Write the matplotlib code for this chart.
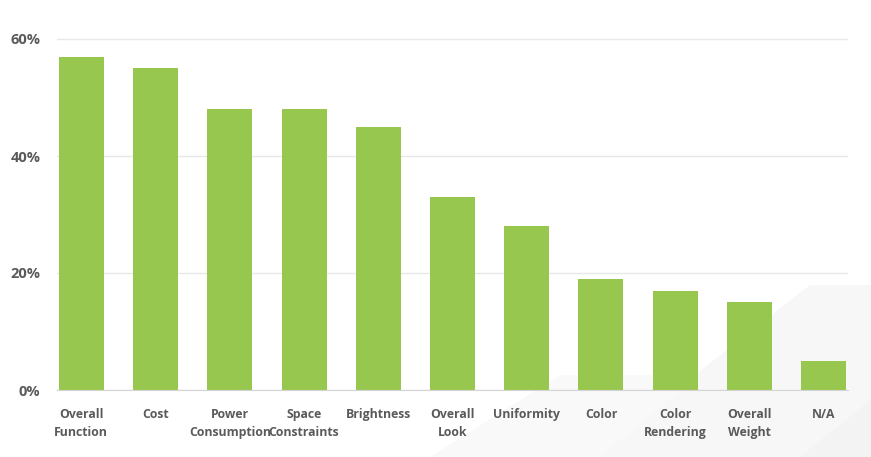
import matplotlib
matplotlib.use('Agg')
import matplotlib.pyplot as plt
from matplotlib.patches import Polygon
from matplotlib.ticker import FuncFormatter

categories = ['Overall\nFunction', 'Cost', 'Power\nConsumption', 'Space\nConstraints',
              'Brightness', 'Overall\nLook', 'Uniformity', 'Color',
              'Color\nRendering', 'Overall\nWeight', 'N/A']
values = [57, 55, 48, 48, 45, 33, 28, 19, 17, 15, 5]
yticks = [0, 20, 40, 60]

W, H = 871, 457
fig = plt.figure(figsize=(W / 100, H / 100), dpi=100)

# faint background watermark shapes (pixel coords -> figure coords)
def px(pts):
    return [(x / W, 1 - y / H) for x, y in pts]

for pts, c in [([(590, 457), (810, 285), (871, 285), (871, 457)], '#f7f7f7'),
               ([(430, 457), (560, 375), (700, 375), (600, 457)], '#f9f9f9'),
               ([(800, 457), (871, 400), (871, 457)], '#f3f3f3')]:
    fig.patches.append(Polygon(px(pts), closed=True, transform=fig.transFigure,
                               facecolor=c, edgecolor='none', zorder=-5))

ax = fig.add_axes([57 / W, 1 - 390 / H, 791 / W, (390 - 33.15) / H])
ax.set_facecolor('none')

x = range(len(categories))
ax.bar(x, values, width=0.606, color='#98c74f', zorder=3)

ax.set_xlim(-0.327, len(categories) - 1 + 0.327)
ax.set_ylim(0, 61)
ax.set_yticks(yticks)
ax.yaxis.set_major_formatter(FuncFormatter(lambda v, p: '%d%%' % v))
ax.grid(axis='y', color='#e8e8e8', linewidth=1, zorder=0)
for s in ['top', 'right', 'left']:
    ax.spines[s].set_visible(False)
ax.spines['bottom'].set_color('#d4d4d4')
ax.spines['bottom'].set_zorder(4)

ax.set_xticks(list(x))
ax.set_xticklabels(categories, linespacing=1.5)
ax.tick_params(axis='both', length=0, colors='#5a5a5a')
ax.tick_params(axis='x', pad=13)
ax.tick_params(axis='y', pad=12)
for t in ax.get_xticklabels() + ax.get_yticklabels():
    t.set_fontfamily('Open Sans')
    t.set_fontweight('bold')
    t.set_fontsize(8.8)
    t.set_color('#5a5a5a')
for t in ax.get_yticklabels():
    t.set_fontsize(10.5)

fig.savefig('out.png', dpi=100)
